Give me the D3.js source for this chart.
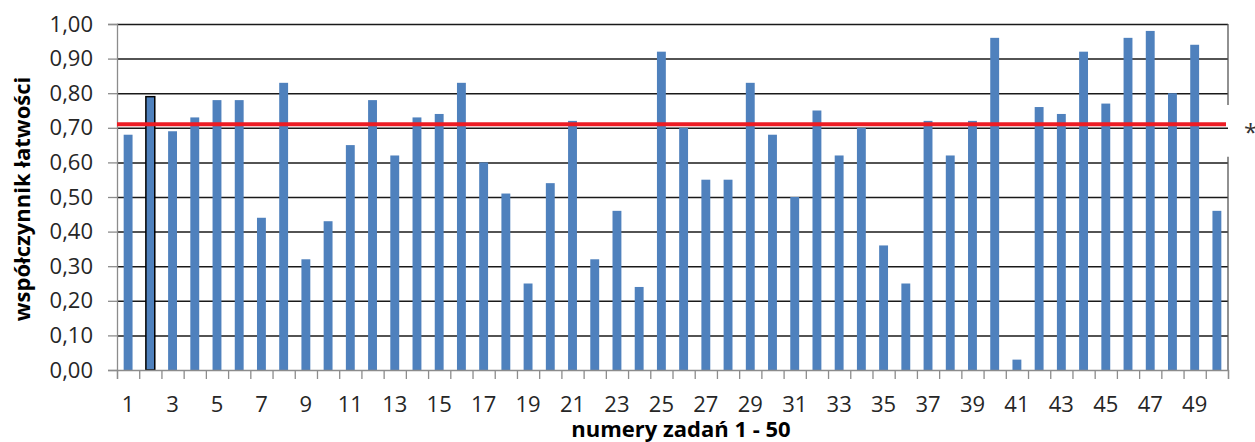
<!DOCTYPE html>
<html>
<head>
<meta charset="utf-8">
<script src="https://cdn.jsdelivr.net/npm/d3@7"></script>
<style>
  body { margin: 0; background: #fff; }
  text { font-family: "Open Sans", sans-serif; }
</style>
</head>
<body>
<div class="chart"></div>
<script>
// task numbers 1..50
var tasks = d3.range(1, 51);
// easiness coefficient per task
var values = [0.68, 0.79, 0.69, 0.73, 0.78, 0.78, 0.44, 0.83, 0.32, 0.43,
              0.65, 0.78, 0.62, 0.73, 0.74, 0.83, 0.60, 0.51, 0.25, 0.54,
              0.72, 0.32, 0.46, 0.24, 0.92, 0.70, 0.55, 0.55, 0.83, 0.68,
              0.50, 0.75, 0.62, 0.70, 0.36, 0.25, 0.72, 0.62, 0.72, 0.96,
              0.03, 0.76, 0.74, 0.92, 0.77, 0.96, 0.98, 0.80, 0.94, 0.46];
// mean line
var average = 0.71;
var yTicks = [0, 0.1, 0.2, 0.3, 0.4, 0.5, 0.6, 0.7, 0.8, 0.9, 1.0];
var xLabels = tasks.filter(function (d) { return d % 2 === 1; });
var highlighted = 2;

var W = 1255, H = 442,
    plotLeft = 117, plotRight = 1228, plotTop = 24, plotBottom = 370;

var svg = d3.select('.chart').append('svg').attr('width', W).attr('height', H);

var y = d3.scaleLinear().domain([0, 1]).range([plotBottom, plotTop]);
var x = d3.scaleBand().domain(tasks).range([plotLeft, plotRight]).paddingInner(0.6).paddingOuter(0.3);
var xEdges = d3.scaleLinear().domain([0, 50]).range([plotLeft, plotRight]);

// gridlines
var grid = svg.append('g').attr('transform', 'translate(' + plotLeft + ',0)')
  .call(d3.axisLeft(y).tickValues(yTicks.slice(1)).tickSize(-(plotRight - plotLeft)).tickFormat(''));
grid.select('.domain').remove();
grid.selectAll('line').attr('stroke', '#1a1a1a').attr('stroke-width', 1.5);

// y axis with labels
var yAxis = svg.append('g').attr('transform', 'translate(' + plotLeft + ',0)')
  .call(d3.axisLeft(y).tickValues(yTicks).tickSize(9).tickPadding(15)
    .tickFormat(function (d) { return d.toFixed(2).replace('.', ','); }));
yAxis.select('.domain').attr('stroke', '#8c8c8c').attr('stroke-width', 1.3);
yAxis.selectAll('line').attr('stroke', '#8c8c8c').attr('stroke-width', 1.3);
yAxis.selectAll('text').attr('font-size', 22).attr('fill', '#262626')
  .attr('font-family', '"Open Sans", sans-serif');

// right border with a gap near the mean label
svg.append('line').attr('x1', plotRight).attr('x2', plotRight).attr('y1', plotTop).attr('y2', y(0.766))
  .attr('stroke', '#555').attr('stroke-width', 1.3);
svg.append('line').attr('x1', plotRight).attr('x2', plotRight).attr('y1', y(0.616)).attr('y2', plotBottom)
  .attr('stroke', '#555').attr('stroke-width', 1.3);

// bars
svg.selectAll('rect.bar').data(values).enter().append('rect')
  .attr('class', 'bar')
  .attr('x', function (d, i) { return x(tasks[i]); })
  .attr('y', function (d) { return y(d); })
  .attr('width', x.bandwidth())
  .attr('height', function (d) { return plotBottom - y(d); })
  .attr('fill', '#4f81bd')
  .attr('stroke', function (d, i) { return tasks[i] === highlighted ? '#000' : 'none'; })
  .attr('stroke-width', 1.5);

// x axis: ticks between categories
var xTicks = svg.append('g').attr('transform', 'translate(0,' + plotBottom + ')')
  .call(d3.axisBottom(xEdges).tickValues(d3.range(51)).tickSize(9).tickFormat(''));
xTicks.selectAll('line, .domain').attr('stroke', '#8c8c8c').attr('stroke-width', 1.3);

// x labels on odd tasks
var xAxis = svg.append('g').attr('transform', 'translate(0,' + plotBottom + ')')
  .call(d3.axisBottom(x).tickValues(xLabels).tickSize(0).tickPadding(26));
xAxis.select('.domain').remove();
xAxis.selectAll('text').attr('font-size', 22).attr('fill', '#262626')
  .attr('font-family', '"Open Sans", sans-serif');

// mean line
svg.append('line').attr('x1', plotLeft).attr('x2', plotRight - 2)
  .attr('y1', y(average)).attr('y2', y(average))
  .attr('stroke', '#ed1c24').attr('stroke-width', 4);
svg.append('text').attr('x', 1244).attr('y', y(average) + 17).text('*')
  .attr('font-size', 24).attr('fill', '#333');

// axis titles
svg.append('text').attr('transform', 'translate(30,199) rotate(-90)')
  .attr('text-anchor', 'middle').attr('font-size', 22).attr('font-weight', 'bold')
  .attr('fill', '#000').text('współczynnik łatwości');
svg.append('text').attr('x', 681).attr('y', 437)
  .attr('text-anchor', 'middle').attr('font-size', 22).attr('font-weight', 'bold')
  .attr('fill', '#000').text('numery zadań 1 - 50');
</script>
</body>
</html>
